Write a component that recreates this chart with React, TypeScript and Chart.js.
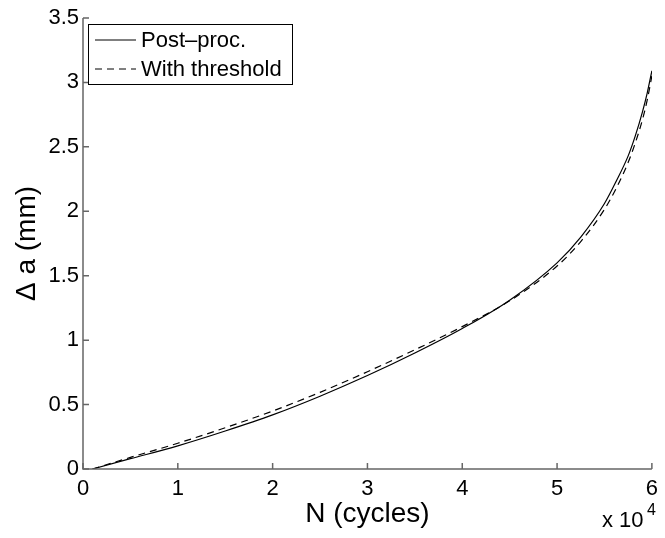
import React, { useEffect, useRef } from "react";
import { Chart, registerables } from "chart.js";

Chart.register(...registerables);

const cyclesSolid = [0.1, 0.5, 1.0, 1.5, 2.0, 2.5, 3.0, 3.5, 4.0, 4.5, 5.0, 5.25, 5.5, 5.625, 5.75, 5.825, 5.9, 5.95, 6.0];
const postProc = [0, 0.08, 0.18, 0.295, 0.42, 0.565, 0.725, 0.9, 1.09, 1.31, 1.6, 1.8, 2.06, 2.235, 2.43, 2.585, 2.77, 2.915, 3.09];
const cyclesDashed = [0.1, 0.5, 1.0, 1.5, 2.0, 2.5, 3.0, 3.5, 4.0, 4.5, 5.0, 5.25, 5.5, 5.625, 5.75, 5.825, 5.9, 5.95, 6.0];
const withThreshold = [0, 0.09, 0.2, 0.32, 0.45, 0.595, 0.755, 0.925, 1.105, 1.305, 1.575, 1.765, 2.015, 2.18, 2.38, 2.53, 2.71, 2.86, 3.05];

const xTicks = [0, 1, 2, 3, 4, 5, 6];
const yTicks = [0, 0.5, 1, 1.5, 2, 2.5, 3, 3.5];
const seriesNames = ["Post\u2013proc.", "With threshold"];
const xTitle = "N (cycles)";
const yTitle = "\u0394 a (mm)";

const FONT = '"Liberation Sans", Arial, Helvetica, sans-serif';
const AXIS_COLOR = "#666666";

const decorPlugin = {
  id: "matlabDecor",
  afterDraw(chart: any) {
    const ctx = chart.ctx;
    const xs = chart.scales.x;
    const ys = chart.scales.y;
    const area = chart.chartArea;
    ctx.save();
    // axis lines
    ctx.strokeStyle = AXIS_COLOR;
    ctx.lineWidth = 1.5;
    ctx.beginPath();
    ctx.moveTo(area.left, area.top);
    ctx.lineTo(area.left, area.bottom);
    ctx.lineTo(area.right, area.bottom);
    ctx.stroke();
    // inward ticks
    const tl = 6;
    ctx.beginPath();
    xTicks.forEach((v) => {
      const px = xs.getPixelForValue(v);
      ctx.moveTo(px, area.bottom);
      ctx.lineTo(px, area.bottom - tl);
    });
    yTicks.forEach((v) => {
      const py = ys.getPixelForValue(v);
      ctx.moveTo(area.left, py);
      ctx.lineTo(area.left + tl, py);
    });
    ctx.stroke();

    // legend
    const bx = 88.5, by = 24.5, bw = 204, bh = 60;
    ctx.fillStyle = "#ffffff";
    ctx.fillRect(bx, by, bw, bh);
    ctx.strokeStyle = "#000000";
    ctx.lineWidth = 1;
    ctx.strokeRect(bx, by, bw, bh);
    const rows = [40, 69];
    ctx.font = `22px ${FONT}`;
    ctx.textBaseline = "middle";
    ctx.textAlign = "left";
    ctx.fillStyle = "#000000";
    rows.forEach((ry, i) => {
      ctx.beginPath();
      ctx.setLineDash(i === 0 ? [] : [7, 5]);
      ctx.moveTo(95, ry);
      ctx.lineTo(136, ry);
      ctx.stroke();
      ctx.setLineDash([]);
      ctx.fillText(seriesNames[i], 141, ry + 1);
    });

    // axis titles
    ctx.font = `28px ${FONT}`;
    ctx.textAlign = "center";
    ctx.textBaseline = "middle";
    ctx.fillText(xTitle, (area.left + area.right) / 2, 514);
    ctx.save();
    ctx.translate(27, (area.top + area.bottom) / 2);
    ctx.rotate(-Math.PI / 2);
    ctx.fillText(yTitle, 0, 0);
    ctx.restore();

    // exponent
    ctx.textAlign = "left";
    ctx.textBaseline = "alphabetic";
    ctx.font = `22px ${FONT}`;
    ctx.fillText("x 10", 602, 527);
    ctx.font = `16px ${FONT}`;
    ctx.fillText("4", 647, 515);
    ctx.restore();
  },
};

export default function App() {
  const ref = useRef<HTMLCanvasElement | null>(null);
  useEffect(() => {
    if (!ref.current) return;
    const chart = new Chart(ref.current, {
      type: "line",
      data: {
        datasets: [
          {
            label: seriesNames[0],
            data: cyclesSolid.map((x, i) => ({ x, y: postProc[i] })),
            borderColor: "#000000",
            borderWidth: 1.2,
            pointRadius: 0,
            cubicInterpolationMode: "monotone",
            fill: false,
          },
          {
            label: seriesNames[1],
            data: cyclesDashed.map((x, i) => ({ x, y: withThreshold[i] })),
            borderColor: "#000000",
            borderWidth: 1.2,
            borderDash: [7, 5],
            pointRadius: 0,
            cubicInterpolationMode: "monotone",
            fill: false,
          },
        ],
      },
      options: {
        responsive: false,
        animation: false,
        layout: { padding: { left: 0, right: 10, top: 18, bottom: 0 } },
        plugins: { legend: { display: false }, tooltip: { enabled: false } },
        scales: {
          x: {
            type: "linear",
            min: 0,
            max: 6,
            afterFit: (s: any) => {
              s.height = 69;
            },
            afterBuildTicks: (s: any) => {
              s.ticks = xTicks.map((v) => ({ value: v }));
            },
            grid: { display: false, drawTicks: false },
            border: { display: false },
            ticks: {
              color: "#000000",
              font: { family: FONT, size: 22 },
              padding: 7,
              maxRotation: 0,
              callback: (v: any) => String(v),
            },
          },
          y: {
            type: "linear",
            min: 0,
            max: 3.5,
            afterFit: (s: any) => {
              s.width = 83;
            },
            afterBuildTicks: (s: any) => {
              s.ticks = yTicks.map((v) => ({ value: v }));
            },
            grid: { display: false, drawTicks: false },
            border: { display: false },
            ticks: {
              color: "#000000",
              font: { family: FONT, size: 22 },
              padding: 4,
              callback: (v: any) => String(v),
            },
          },
        },
      },
      plugins: [decorPlugin],
    });
    return () => chart.destroy();
  }, []);
  return (
    <div style={{ position: "absolute", left: 0, top: 0, width: 665, height: 538, background: "#fff" }}>
      <canvas ref={ref} width={665} height={538} />
    </div>
  );
}
